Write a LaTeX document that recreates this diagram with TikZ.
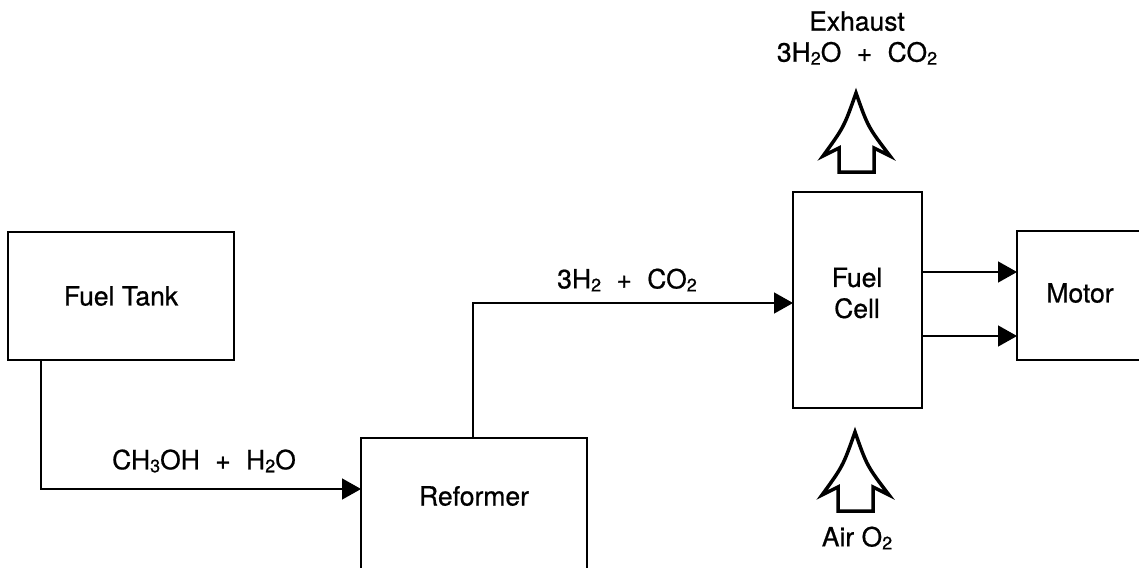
\documentclass[tikz,border=0pt]{standalone}
\usepackage{fontspec}
\setmainfont{TeX Gyre Heros}[FakeBold=0.7]
\usetikzlibrary{arrows.meta}
\newcommand{\chemsub}[1]{\raisebox{-3pt}{\fontsize{18}{18}\selectfont #1}}
\newcommand{\plusgap}{\hspace{0.58em}+\hspace{0.58em}}
\tikzset{
  box/.style={draw, line width=1.5pt, inner sep=0pt, fill=white},
  lbl/.style={inner sep=0pt, align=center, font=\fontsize{26.5}{31}\selectfont},
  flow/.style={line width=1.5pt, -{Triangle[length=19pt,width=21pt]}},
  hollowup/.pic={
    \draw[line width=3.5pt, line join=miter, miter limit=8, fill=white]
      (0,0) .. controls (12,34) .. (34,63) -- (18,55) -- (18,79) -- (-17,79)
      -- (-17,55) -- (-33,63) .. controls (-12,34) .. cycle;
  }
}
\begin{document}
\begin{tikzpicture}[x=1pt,y=-1pt]
\useasboundingbox (0,0) rectangle (1139,567);
\clip (0,0) rectangle (1139,567);
% boxes
\node[box, minimum width=226pt, minimum height=128pt, lbl] (tank) at (121,296) {Fuel Tank};
\node[box, minimum width=226pt, minimum height=164pt] (ref) at (474,520) {};
\node[lbl] (reftext) at (474,496) {Reformer};
\node[box, minimum width=129pt, minimum height=216pt] (cell) at (857.5,300) {};
\node[lbl] (celltext) at (857,293) {Fuel\\Cell};
\node[box, minimum width=128pt, minimum height=129pt] (motor) at (1081,295.5) {};
\node[lbl] (motortext) at (1080,293) {Motor};
% labels
\node[lbl] (meth) at (204,461) {CH\chemsub{3}OH\plusgap H\chemsub{2}O};
\node[lbl] (hyd) at (627,280) {3H\chemsub{2}\plusgap CO\chemsub{2}};
\node[lbl] (exh) at (857,38) {Exhaust\\3H\chemsub{2}O\plusgap CO\chemsub{2}};
\node[lbl] (air) at (857,538) {Air O\chemsub{2}};
% connectors
\coordinate (tankout) at (41,360);
\coordinate (refin) at (361,489);
\draw[flow] (tankout) |- (refin);
\coordinate (refout) at (473,438);
\coordinate (cellin) at (793,303);
\draw[flow] (refout) |- (cellin);
\coordinate (c1) at (922,272);
\coordinate (m1) at (1017,272);
\coordinate (c2) at (922,336);
\coordinate (m2) at (1017,336);
\draw[flow] (c1) -- (m1);
\draw[flow] (c2) -- (m2);
% hollow arrows
\pic (exharrow) at (856,93) {hollowup};
\pic (airarrow) at (855,432) {hollowup};
\end{tikzpicture}
\end{document}
